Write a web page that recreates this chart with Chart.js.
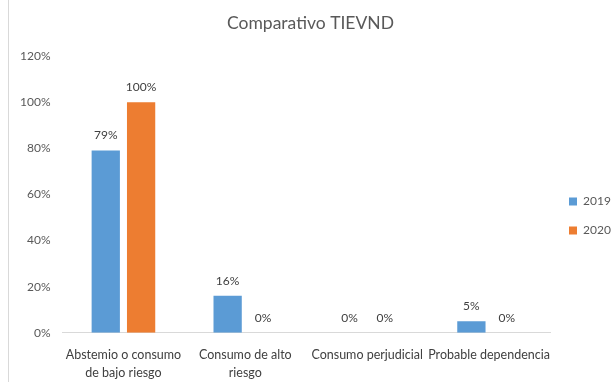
<!DOCTYPE html>
<html>
<head>
<meta charset="utf-8">
<script src="https://cdn.jsdelivr.net/npm/chart.js@4.4.0/dist/chart.umd.min.js"></script>
<style>
  html, body { margin: 0; padding: 0; background: #fff; }
  #wrap { width: 613px; height: 382px; position: relative; }
</style>
</head>
<body>
<div id="wrap"><canvas id="chart"></canvas></div>
<script>
const categories = [
  ['Abstemio o consumo', 'de bajo riesgo'],
  ['Consumo de alto', 'riesgo'],
  'Consumo perjudicial',
  'Probable dependencia'
];
const values2019 = [79, 16, 0, 5];
const values2020 = [100, 0, 0, 0];
const seriesLabels = ['2019', '2020'];

const FONT = "Lato, 'Liberation Sans', sans-serif";

// writes the percentage above each bar
const barValues = {
  id: 'barValues',
  afterDatasetsDraw(chart) {
    const ctx = chart.ctx;
    ctx.save();
    ctx.font = '12px ' + FONT;
    ctx.fillStyle = '#404040';
    ctx.textAlign = 'center';
    ctx.textBaseline = 'bottom';
    chart.data.datasets.forEach((ds, i) => {
      chart.getDatasetMeta(i).data.forEach((bar, j) => {
        ctx.fillText(ds.data[j] + '%', bar.x, bar.y - 9);
      });
    });
    ctx.restore();
  }
};

// thin frame line on the left edge
const frameLine = {
  id: 'frameLine',
  beforeDraw(chart) {
    const ctx = chart.ctx;
    ctx.save();
    ctx.strokeStyle = '#d9d9d9';
    ctx.lineWidth = 1;
    ctx.beginPath();
    ctx.moveTo(8.5, 0);
    ctx.lineTo(8.5, chart.height);
    ctx.stroke();
    ctx.restore();
  }
};

// legend sits a bit lower and further right than the default right-hand slot
const legendNudge = {
  id: 'legendNudge',
  afterLayout(chart) {
    const lg = chart.legend;
    lg.left += 2;
    lg.right += 2;
    lg.top += 22;
    lg.bottom += 22;
  }
};

new Chart(document.getElementById('chart'), {
  type: 'bar',
  data: {
    labels: categories,
    datasets: [
      { label: seriesLabels[0], data: values2019, backgroundColor: '#5b9bd5' },
      { label: seriesLabels[1], data: values2020, backgroundColor: '#ed7d31' }
    ]
  },
  options: {
    responsive: true,
    maintainAspectRatio: false,
    animation: false,
    categoryPercentage: 0.58,
    barPercentage: 0.8,
    layout: { padding: { left: 8, right: 0, top: 6, bottom: 0 } },
    plugins: {
      title: {
        display: true,
        text: 'Comparativo TIEVND',
        color: '#595959',
        font: { family: FONT, size: 17.5, weight: 'normal' },
        padding: { top: 7, bottom: 22 }
      },
      legend: {
        position: 'right',
        maxWidth: 63,
        labels: {
          boxWidth: 8,
          boxHeight: 8,
          padding: 17,
          color: '#595959',
          font: { family: FONT, size: 12 }
        }
      },
      tooltip: { enabled: false }
    },
    scales: {
      x: {
        grid: { display: false, drawTicks: false },
        border: { display: true, color: '#d9d9d9' },
        ticks: {
          color: '#404040',
          font: { family: FONT, size: 12.5, lineHeight: 1.45 },
          autoSkip: false,
          maxRotation: 0,
          padding: 13
        },
        // labels only need the padding above them, not below
        afterFit(scale) {
          scale.height -= scale.options.ticks.padding;
        }
      },
      y: {
        min: 0,
        max: 120,
        grid: { display: false, drawTicks: false },
        border: { display: false },
        ticks: {
          stepSize: 20,
          color: '#595959',
          font: { family: FONT, size: 12 },
          padding: 12,
          callback: v => v + '%'
        }
      }
    }
  },
  plugins: [barValues, frameLine, legendNudge]
});
</script>
</body>
</html>
